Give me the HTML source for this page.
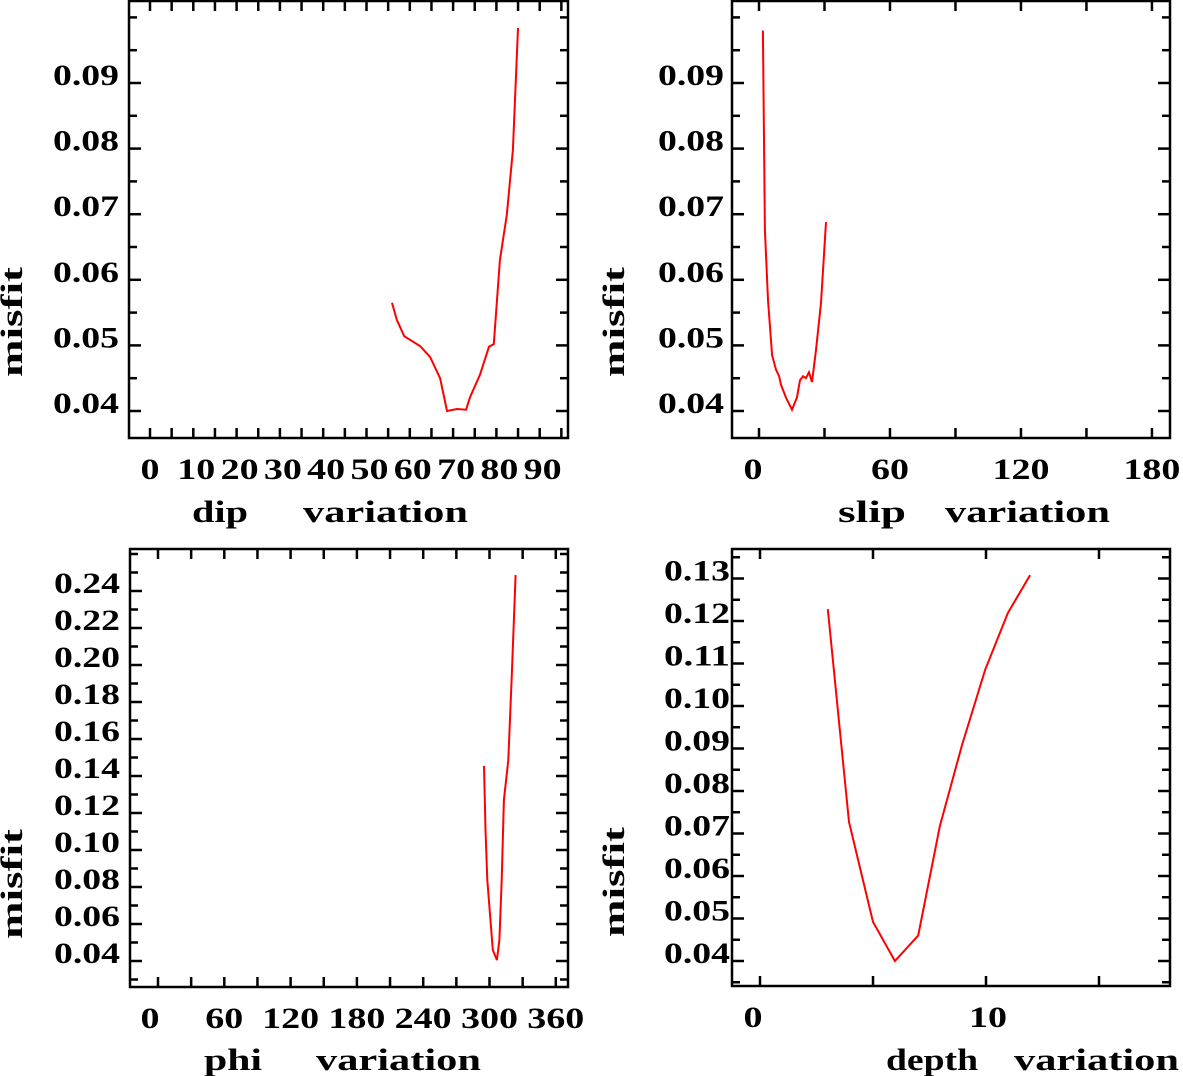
<!DOCTYPE html>
<html><head><meta charset="utf-8"><style>
html,body{margin:0;padding:0;background:#fff;}
svg{display:block;}
text{font-family:"Liberation Serif",serif;font-weight:bold;fill:#000;}
</style></head><body>
<svg id="chart" width="1183" height="1076" viewBox="0 0 1183 1076" xmlns="http://www.w3.org/2000/svg"></svg>
<script>
// Dip panel data
const dipX = [55.9,57.0,58.7,62.4,64.7,67.0,68.6,70.9,73.0,73.9,76.2,78.3,79.4,80.8,82.4,83.8,85.0];
const dipY = [0.0565,0.0539,0.0514,0.0499,0.0482,0.0450,0.0400,0.0403,0.0402,0.0421,0.0455,0.0498,0.0502,0.0630,0.0699,0.0798,0.0984];
const dipXTicks = [0,10,20,30,40,50,60,70,80,90];
const dipYTicks = [0.04,0.05,0.06,0.07,0.08,0.09];
// Slip panel data
const slipX = [1.8,2.7,4.1,6.0,7.8,9.2,10.1,12.4,15.1,17.4,18.8,20.2,21.5,22.9,24.3,26.1,28.4,30.7];
const slipY = [0.098,0.0676,0.0569,0.0485,0.0463,0.0453,0.0440,0.0420,0.0402,0.0421,0.0447,0.0453,0.0450,0.0459,0.0444,0.0493,0.0565,0.0688];
const slipXTicks = [0,60,120,180];
const slipYTicks = [0.04,0.05,0.06,0.07,0.08,0.09];
// Phi panel data
const phiX = [295,296.4,298,303,306.7,309,311,313,317,320,323.6];
const phiY = [0.1454,0.1108,0.0838,0.046,0.0405,0.0514,0.0838,0.127,0.1486,0.192,0.2486];
const phiXTicks = [0,60,120,180,240,300,360];
const phiYTicks = [0.04,0.06,0.08,0.10,0.12,0.14,0.16,0.18,0.20,0.22,0.24];
// Depth panel data
const depthX = [3.0,3.94,5.0,5.97,7.0,7.96,8.94,9.96,10.97,11.95];
const depthY = [0.1228,0.0727,0.0492,0.0400,0.046,0.0718,0.0908,0.1085,0.1219,0.1308];
const depthXTicks = [0,10];
const depthYTicks = [0.04,0.05,0.06,0.07,0.08,0.09,0.10,0.11,0.12,0.13];

const NS = "http://www.w3.org/2000/svg";
const svg = document.getElementById('chart');
function mk(tag, attrs, parent){
  const e = document.createElementNS(NS, tag);
  for (const k in attrs) e.setAttribute(k, attrs[k]);
  (parent||svg).appendChild(e);
  return e;
}
function panel(cfg){
  const g = mk('g', {});
  
  
  const sx = v => cfg.x0 + v * cfg.xs;
  const sy = v => cfg.y0 - (v - cfg.yBase) * cfg.ys;
  const fr = mk('rect', {x:cfg.L, y:cfg.T, width:cfg.R-cfg.L, height:cfg.B-cfg.T, fill:'none', stroke:'#000', 'stroke-width':2.5}, g);
  
  
  for (let v = cfg.xMinorStart; sx(v) < cfg.R - 2; v += cfg.xMinor) {
    const px = sx(v);
    if (px <= cfg.L + 2) continue;
    mk('line', {x1:px, y1:cfg.B, x2:px, y2:cfg.B-10, stroke:'#000', 'stroke-width':2.5}, g);
    mk('line', {x1:px, y1:cfg.T, x2:px, y2:cfg.T+10, stroke:'#000', 'stroke-width':2.5}, g);
  }
  for (let v = cfg.yMinorStart; sy(v) > cfg.T + 2; v += cfg.yMinor) {
    const py = sy(v);
    if (py >= cfg.B - 2) continue;
    const major = cfg.yTicks.some(t => Math.abs(t - v) < 1e-6);
    const len = major ? 12 : 8;
    mk('line', {x1:cfg.L, y1:py, x2:cfg.L+len, y2:py, stroke:'#000', 'stroke-width':2.5}, g);
    mk('line', {x1:cfg.R, y1:py, x2:cfg.R-len, y2:py, stroke:'#000', 'stroke-width':2.5}, g);
  }
  cfg.xTicks.forEach(v => {
    const s = String(v);
    const t = mk('text', {x:sx(v) + (v===0 ? cfg.zeroOff : cfg.xLabOff), y:cfg.B+41, 'font-size':30, 'text-anchor':'middle', textLength:s.length*cfg.digitW, lengthAdjust:'spacingAndGlyphs'}, g);
    t.textContent = s;
    
    
  });
  cfg.yTicks.forEach(v => {
    const t = mk('text', {x:cfg.L-cfg.yLabGap, y:sy(v)+2, 'font-size':30, 'text-anchor':'end', textLength:66, lengthAdjust:'spacingAndGlyphs'}, g);
    t.textContent = v.toFixed(2);
    
    
  });
  const yt = mk('text', {x:0, y:0, 'font-size':31, 'text-anchor':'middle', textLength:110, lengthAdjust:'spacingAndGlyphs', transform:`translate(${cfg.yTitleX},${cfg.yTitleY}) rotate(-90)`}, g);
  yt.textContent = 'misfit';
  
  
  const w1 = mk('text', {x:cfg.xTitleX, y:cfg.xTitleY, 'font-size':31, textLength:cfg.w1Len, lengthAdjust:'spacingAndGlyphs'}, g);
  w1.textContent = cfg.word1;
  
  
  const w2 = mk('text', {x:cfg.w2X, y:cfg.xTitleY, 'font-size':31, textLength:165, lengthAdjust:'spacingAndGlyphs'}, g);
  w2.textContent = 'variation';
  
  
  const pts = cfg.xs_data.map((v,i) => sx(v).toFixed(1) + ',' + sy(cfg.ys_data[i]).toFixed(1)).join(' ');
  const line = mk('polyline', {points:pts, fill:'none', stroke:'#ff0000', 'stroke-width':2}, g);
  
  
}
panel({name:'dip', L:129, R:568, T:1, B:438, x0:150, xs:4.33, y0:411, yBase:0.04, ys:6560,
  xMinorStart:0, xMinor:5, yMinorStart:0.035, yMinor:0.005, xTicks:dipXTicks, yTicks:dipYTicks,
  zeroOff:0, xLabOff:3, digitW:19, yLabGap:10,
  xs_data:dipX, ys_data:dipY, yTitleX:22, yTitleY:322, xTitleX:192, xTitleY:522, word1:'dip', w1Len:56, w2X:303});
panel({name:'slip', L:732, R:1170, T:1, B:438, x0:759, xs:2.183, y0:411, yBase:0.04, ys:6560,
  xMinorStart:0, xMinor:30, yMinorStart:0.035, yMinor:0.005, xTicks:slipXTicks, yTicks:slipYTicks,
  zeroOff:-6, xLabOff:0, digitW:19, yLabGap:8,
  xs_data:slipX, ys_data:slipY, yTitleX:624, yTitleY:322, xTitleX:838, xTitleY:522, word1:'slip', w1Len:68, w2X:945});
panel({name:'phi', L:130, R:568, T:549, B:987, x0:158, xs:1.105, y0:961, yBase:0.04, ys:1850,
  xMinorStart:0, xMinor:30, yMinorStart:0.03, yMinor:0.01, xTicks:phiXTicks, yTicks:phiYTicks,
  zeroOff:-8, xLabOff:0, digitW:19, yLabGap:10,
  xs_data:phiX, ys_data:phiY, yTitleX:22, yTitleY:884, xTitleX:204, xTitleY:1070, word1:'phi', w1Len:58, w2X:316});
panel({name:'depth', L:732, R:1170, T:549, B:986, x0:760, xs:22.6, y0:961, yBase:0.04, ys:4250,
  xMinorStart:0, xMinor:5, yMinorStart:0.035, yMinor:0.005, xTicks:depthXTicks, yTicks:depthYTicks,
  zeroOff:-7, xLabOff:2, digitW:19, yLabGap:2,
  xs_data:depthX, ys_data:depthY, yTitleX:624, yTitleY:882, xTitleX:886, xTitleY:1070, word1:'depth', w1Len:92, w2X:1014});
</script>
</body></html>
